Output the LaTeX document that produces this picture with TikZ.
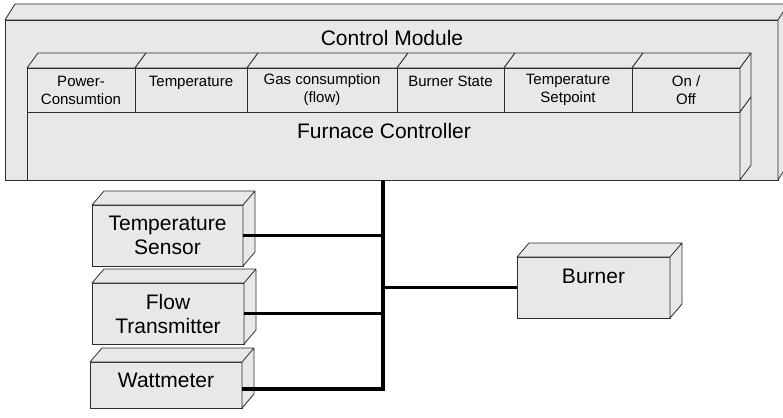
\documentclass[tikz,border=0pt]{standalone}
\usepackage{fontspec}
\setmainfont{Liberation Sans}
\usepackage{tikz}
\definecolor{boxgray}{RGB}{232,232,232}
\definecolor{edgegray}{RGB}{45,45,45}

\begin{document}
\begin{tikzpicture}[x=1pt, y=-1pt,
    unit/.style={draw=edgegray, fill=boxgray, line width=0.8pt, rectangle, inner sep=0pt, outer sep=0pt, align=center, font=\fontsize{21}{24}\selectfont},
    cell/.style={unit, font=\fontsize{15}{18}\selectfont},
    face/.style={draw=edgegray, fill=boxgray, line width=0.8pt, line join=round},
    bus/.style={line width=3.5pt, line join=miter}]
    \useasboundingbox (0,0) rectangle (783,417);
    \clip (0,0) rectangle (783,417);

    \node (module) at (391.5,100) [unit, minimum width=773, minimum height=160] {};
    \draw[face] (module.north west) -- ++(10,-16) -- ([shift={(10,-16)}]module.north east) -- ([shift={(10,-16)}]module.south east) -- (module.south east) -- (module.north east) -- cycle (module.north east) -- ++(10,-16);
    \node (moduletitle) at (392,37.5) [font=\fontsize{21}{24}\selectfont] {Control Module};

    \node (cpower) at (81,90) [cell, minimum width=108, minimum height=44] {Power-\\Consumtion};
    \node (ctemp) at (191,90) [cell, minimum width=112, minimum height=44] {Temperature\\\mbox{}};
    \node (cgas) at (322,90) [cell, minimum width=150, minimum height=44] {Gas consumption\\(flow)};
    \node (cburner) at (450.5,90) [cell, minimum width=107, minimum height=44] {Burner State\\\mbox{}};
    \node (cset) at (568,90) [cell, minimum width=128, minimum height=44] {Temperature\\Setpoint};
    \node (conoff) at (686,90) [cell, minimum width=108, minimum height=44] {On /\\Off};
    \foreach \cl in {cpower,ctemp,cgas,cburner,cset,conoff}
        \draw[face] (\cl.north west) -- ++(11,-15) -- ([shift={(11,-15)}]\cl.north east) -- (\cl.north east) -- cycle;
    \draw[face] (conoff.north east) -- ++(11,-15) -- ([shift={(11,-15)}]conoff.south east) -- (conoff.south east) -- cycle;

    \node (furnace) at (383.5,146) [unit, minimum width=713, minimum height=68] {};
    \draw[face] (furnace.north east) -- ++(11,-15) -- ([shift={(11,-15)}]furnace.south east) -- (furnace.south east) -- cycle;
    \node (furnacetitle) at (384,131) [font=\fontsize{21}{24}\selectfont] {Furnace Controller};

    \node (tsensor) at (167.5,235.5) [unit, minimum width=151, minimum height=61] {Temperature\\Sensor};
    \node (flowtx) at (168,313.5) [unit, minimum width=152, minimum height=61] {Flow\\Transmitter};
    \node (wattm) at (166,385) [unit, minimum width=152, minimum height=46, text height=15, text depth=11] {Wattmeter};
    \node (burner) at (593.5,287.5) [unit, minimum width=153, minimum height=61, text height=15, text depth=24] {Burner};
    \foreach \bx in {tsensor,flowtx,wattm,burner}
        \draw[face] (\bx.north west) -- ++(12,-14) -- ([shift={(12,-14)}]\bx.north east) -- ([shift={(12,-14)}]\bx.south east) -- (\bx.south east) -- (\bx.north east) -- cycle (\bx.north east) -- ++(12,-14);

    \coordinate (bustop) at (383,180);
    \coordinate (busbot) at (383,389);
    \draw[bus] (bustop) -- (busbot) -- (wattm.east |- busbot);
    \draw[bus] (tsensor.east) -- (tsensor.east -| bustop);
    \draw[bus] (flowtx.east) -- (flowtx.east -| bustop);
    \draw[bus] (burner.west) -- (burner.west -| bustop);
\end{tikzpicture}
\end{document}
